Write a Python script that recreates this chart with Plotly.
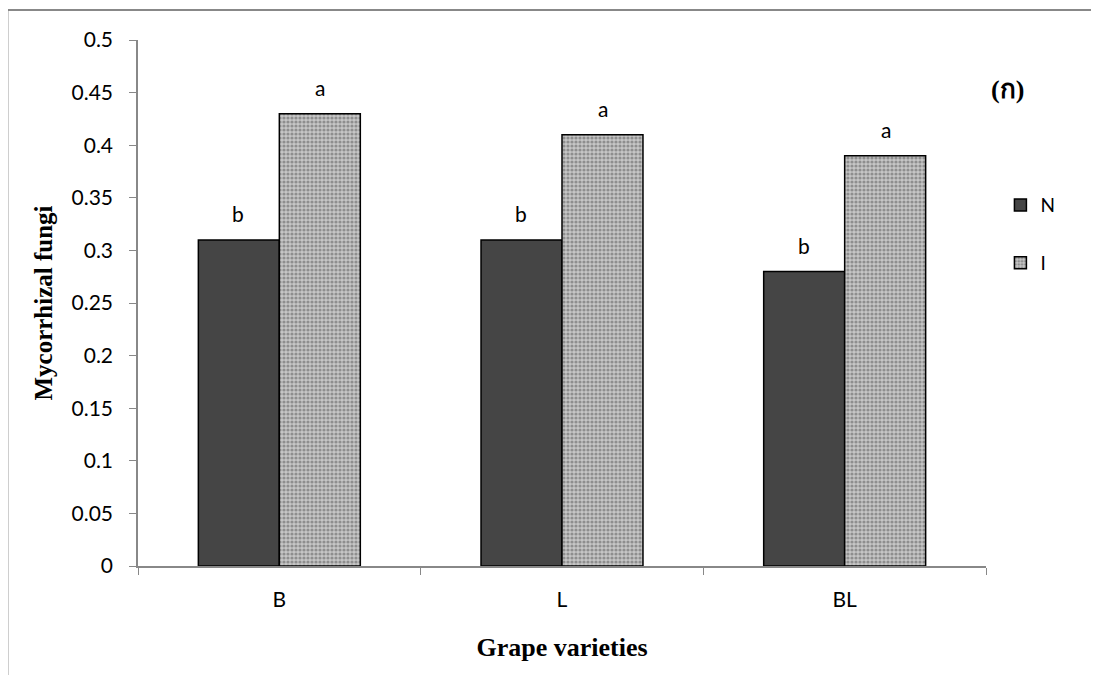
import plotly.graph_objects as go

categories = ["B", "L", "BL"]
n_values = [0.31, 0.31, 0.28]
i_values = [0.43, 0.41, 0.39]
n_letters = ["b", "b", "b"]
i_letters = ["a", "a", "a"]
y_ticks = [0, 0.05, 0.1, 0.15, 0.2, 0.25, 0.3, 0.35, 0.4, 0.45, 0.5]
y_tick_text = ["0", "0.05", "0.1", "0.15", "0.2", "0.25", "0.3", "0.35", "0.4", "0.45", "0.5"]

tick_font = dict(family="Lato, Open Sans, sans-serif", size=21, color="#000")
serif_bold = "Liberation Serif, Times New Roman, serif"

fig = go.Figure()
fig.add_trace(go.Bar(
    name="N", x=categories, y=n_values,
    marker=dict(color="#454545", line=dict(color="#000", width=1.5)),
    legendgroup="N",
))
fig.add_trace(go.Bar(
    name="I", x=categories, y=i_values,
    marker=dict(color="#c4c4c4", line=dict(color="#000", width=1.5),
                pattern=dict(shape=".", fgcolor="#555555", bgcolor="#c6c6c6",
                             size=4, solidity=0.5)),
    legendgroup="I",
))

# letter annotations above bars
for cat, v, t in zip(categories, n_values, n_letters):
    fig.add_annotation(x=cat, y=v, text=t, showarrow=False, xshift=-41, yshift=26,
                       font=tick_font)
for cat, v, t in zip(categories, i_values, i_letters):
    fig.add_annotation(x=cat, y=v, text=t, showarrow=False, xshift=41, yshift=26,
                       font=tick_font)

fig.add_annotation(xref="paper", yref="paper", x=1.025, y=0.905, text="<b>(ก)</b>",
                   showarrow=False, xanchor="center", yanchor="middle",
                   font=dict(family=serif_bold, size=26, color="#000"))

# outer frame lines
fig.add_shape(type="line", xref="paper", yref="paper", x0=-0.154, x1=1.2, y0=1.057, y1=1.057,
              line=dict(color="#888", width=2))
fig.add_shape(type="line", xref="paper", yref="paper", x0=-0.154, x1=-0.154, y0=1.057, y1=-0.3,
              line=dict(color="#888", width=2))

fig.update_layout(
    width=1091, height=667,
    margin=dict(l=130, r=113, t=32, b=109),
    paper_bgcolor="white", plot_bgcolor="white",
    barmode="group", bargap=0.427, bargroupgap=0,
    showlegend=True,
    legend=dict(x=1.017, y=0.722, xanchor="left", yanchor="top",
                font=dict(family="Lato, Open Sans, sans-serif", size=19, color="#000"),
                tracegroupgap=30, itemwidth=30, bgcolor="rgba(0,0,0,0)"),
    xaxis=dict(showline=True, linecolor="#888", linewidth=1.5,
               ticks="outside", tickson="boundaries", ticklen=7, tickcolor="#888",
               tickfont=tick_font, ticklabelstandoff=14,
               title=dict(text="<b>Grape varieties</b>",
                          font=dict(family=serif_bold, size=26, color="#000"), standoff=28)),
    yaxis=dict(range=[0, 0.5], tickvals=y_ticks, ticktext=y_tick_text,
               showline=True, linecolor="#888", linewidth=1.5,
               ticks="outside", ticklen=7, tickcolor="#888", showgrid=False, zeroline=False,
               tickfont=tick_font, ticklabelstandoff=12,
               title=dict(text="<b>Mycorrhizal fungi</b>",
                          font=dict(family=serif_bold, size=25, color="#000"), standoff=12)),
)

fig.write_html("out.html")
